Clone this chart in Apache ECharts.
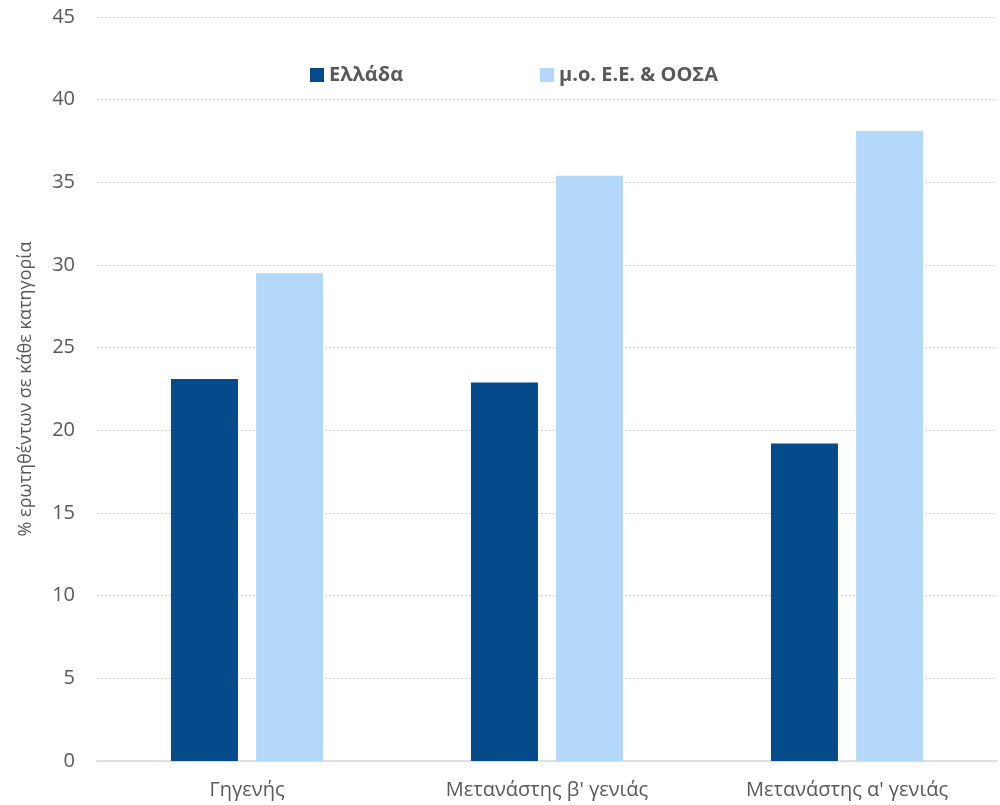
<!DOCTYPE html>
<html><head><meta charset="utf-8">
<script src="https://cdn.jsdelivr.net/npm/echarts@6/dist/echarts.min.js"></script>
<style>html,body{margin:0;padding:0;background:#fff}#c{width:1000px;height:805px}</style>
</head><body><div id="c"></div>
<script>
var categories = ["Γηγενής", "Μετανάστης β' γενιάς", "Μετανάστης α' γενιάς"];
var greece = [23.1, 22.9, 19.2];
var avg = [29.5, 35.4, 38.1];
var seriesNames = ["Ελλάδα", "μ.ο. Ε.Ε. & ΟΟΣΑ"];
var yTicks = [0, 5, 10, 15, 20, 25, 30, 35, 40, 45];
var font = "'Open Sans', 'Noto Sans', sans-serif";
var chart = echarts.init(document.getElementById('c'));
chart.setOption({
  animation: false,
  grid: {left: 97, right: 3, top: 17, bottom: 44},
  legend: {
    top: 60, left: 305, itemGap: 137, itemWidth: 14, itemHeight: 14, icon: 'rect',
    textStyle: {fontFamily: font, fontSize: 20, fontWeight: 'bold', color: '#595959'},
    data: seriesNames
  },
  xAxis: {
    type: 'category', data: categories,
    axisLine: {lineStyle: {color: '#d9d9d9', width: 1.5}},
    axisTick: {show: false},
    axisLabel: {fontFamily: font, fontSize: 20, color: '#595959', margin: 19}
  },
  yAxis: {
    type: 'value', min: 0, max: 45, interval: 5,
    name: '% ερωτηθέντων σε κάθε κατηγορία', nameLocation: 'middle', nameGap: 62,
    nameTextStyle: {fontFamily: font, fontSize: 18, color: '#595959'},
    axisLine: {show: false}, axisTick: {show: false},
    axisLabel: {fontFamily: font, fontSize: 20, color: '#595959', margin: 22},
    splitLine: {lineStyle: {color: '#d0d0d0', type: [2, 2], width: 1}}
  },
  series: [
    {name: seriesNames[0], type: 'bar', data: greece, barWidth: 67, barGap: '27%', itemStyle: {color: '#054A8A'}},
    {name: seriesNames[1], type: 'bar', data: avg, barWidth: 67, itemStyle: {color: '#B4D8FA'}}
  ]
});
</script></body></html>
